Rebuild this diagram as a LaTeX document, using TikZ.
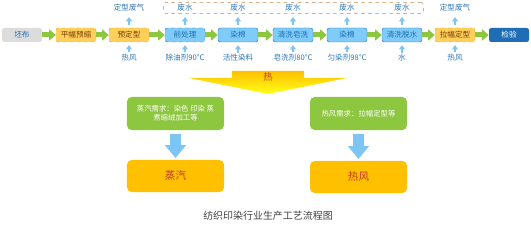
\documentclass[tikz,border=0pt]{standalone}
\usepackage{fontspec}
\setmainfont{Noto Sans CJK SC}
\usetikzlibrary{arrows.meta,fit,positioning}

\definecolor{grigio}{HTML}{DCDCDC}
\definecolor{arancio}{HTML}{FFCF5C}
\definecolor{bordoarancio}{HTML}{F2A51C}
\definecolor{marrone}{HTML}{7A3A00}
\definecolor{azzurro}{HTML}{80CCF8}
\definecolor{bordoblu}{HTML}{2E7BC4}
\definecolor{bluscuro}{HTML}{1F6DB5}
\definecolor{testoblu}{HTML}{2E75B6}
\definecolor{verde}{HTML}{8DC63F}
\definecolor{celeste}{HTML}{7DC5F5}
\definecolor{oro}{HTML}{FFC000}
\definecolor{rosso}{HTML}{C0392B}
\definecolor{brunogruppo}{HTML}{C9874A}

\tikzset{
  scatola/.style={rounded corners=2pt, minimum width=1.2cm, minimum height=0.42cm,
    inner sep=0pt, font=\fontsize{6.5}{7}\selectfont},
  grigia/.style={scatola, fill=grigio, text=bluscuro},
  arancione/.style={scatola, fill=arancio, draw=bordoarancio, dashed, text=marrone},
  celestina/.style={scatola, fill=azzurro, draw=bordoblu, text=bluscuro},
  scura/.style={scatola, fill=bluscuro, text=white},
  etichetta/.style={inner sep=1pt, text=testoblu, font=\fontsize{6.5}{7}\selectfont},
  frecciaverde/.style={draw=verde, line width=1.5mm, -{Triangle[length=2mm, width=3.3mm]}},
  freccina/.style={draw=celeste, line width=0.6mm, -{Triangle[length=1.3mm, width=1.8mm]}},
  frecciagrande/.style={draw=celeste, line width=3.4mm, -{Triangle[length=3.9mm, width=6.2mm]},
    shorten <=3pt, shorten >=1.5pt},
  richiesta/.style={rounded corners=4pt, fill=verde, text=white, minimum width=2.91cm,
    minimum height=0.99cm, align=center, font=\fontsize{6.3}{8}\selectfont},
  fonte/.style={rounded corners=4pt, fill=oro, text=rosso, minimum width=2.91cm,
    minimum height=0.96cm, font=\fontsize{9}{10}\selectfont}
}

\begin{document}
\begin{tikzpicture}[x=0.03cm, y=-0.03cm]
\useasboundingbox (0,0) rectangle (531,229);

% linea di processo
\node[grigia]    (b1)  at (22,35)  {坯布};
\node[arancione] (b2)  at (76,35)  {平幅预缩};
\node[arancione] (b3)  at (129,35) {预定型};
\node[celestina, dashed] (b4) at (185,35) {前处理};
\node[celestina] (b5)  at (238,35) {染棉};
\node[celestina] (b6)  at (293,35) {清洗皂洗};
\node[celestina] (b7)  at (347,35) {染棉};
\node[celestina] (b8)  at (402,35) {清洗脱水};
\node[arancione] (b9)  at (455,35) {拉幅定型};
\node[scura]     (b10) at (509,35) {检验};

\draw[frecciaverde] (b1) -- (b2);
\draw[frecciaverde] (b2) -- (b3);
\draw[frecciaverde] (b3) -- (b4);
\draw[frecciaverde] (b4) -- (b5);
\draw[frecciaverde] (b5) -- (b6);
\draw[frecciaverde] (b6) -- (b7);
\draw[frecciaverde] (b7) -- (b8);
\draw[frecciaverde] (b8) -- (b9);
\draw[frecciaverde] (b9) -- (b10);

% uscite
\node[etichetta] (o3) at (129,8) {定型废气};
\node[etichetta] (o4) at (185,8) {废水};
\node[etichetta] (o5) at (238,8) {废水};
\node[etichetta] (o6) at (293,8) {废水};
\node[etichetta] (o7) at (347,8) {废水};
\node[etichetta] (o8) at (402,8) {废水};
\node[etichetta] (o9) at (455,8) {定型废气};
\node[draw=brunogruppo, dashed, rounded corners=2pt, inner xsep=0.37cm, inner ysep=0.02cm,
  fit=(o4)(o8)] (acque) {};

% ingressi
\node[etichetta] (i3) at (129,58) {热风};
\node[etichetta] (i4) at (185,58) {除油剂90°C};
\node[etichetta] (i5) at (238,58) {活性染料};
\node[etichetta] (i6) at (293,58) {皂洗剂80°C};
\node[etichetta] (i7) at (347,58) {匀染剂98°C};
\node[etichetta] (i8) at (402,58) {水};
\node[etichetta] (i9) at (455,58) {热风};

\foreach \k in {3,...,9} {
  \draw[freccina, shorten <=2.5pt, shorten >=3.5pt] (b\k) -- (o\k);
  \draw[freccina, shorten <=0.5pt, shorten >=2.5pt] (i\k) -- (b\k);
}

% calore
\shade[top color=oro, bottom color=yellow!90!white]
  (232,71) -- (304,71) -- (304,78) -- (347,78) -- (268,94) -- (189,78) -- (232,78) -- cycle;
\node[text=rosso, font=\fontsize{8}{9}\selectfont] (calore) at (268,77) {热};

% richieste e fonti
\node[richiesta] (g1) at (175.5,113.5) {蒸汽需求：染色 印染 蒸\\煮缩绒加工等};
\node[richiesta] (g2) at (358.5,113.5) {热风需求：拉幅定型等};
\node[fonte] (s1) at (175.5,176) {蒸汽};
\node[fonte] (s2) at (358.5,177) {热风};
\draw[frecciagrande] (g1) -- (s1);
\draw[frecciagrande] (g2) -- (s2);

% titolo
\node[text=black!75, font=\fontsize{8.5}{10}\selectfont] (titolo) at (268,216) {纺织印染行业生产工艺流程图};

\end{tikzpicture}
\end{document}
